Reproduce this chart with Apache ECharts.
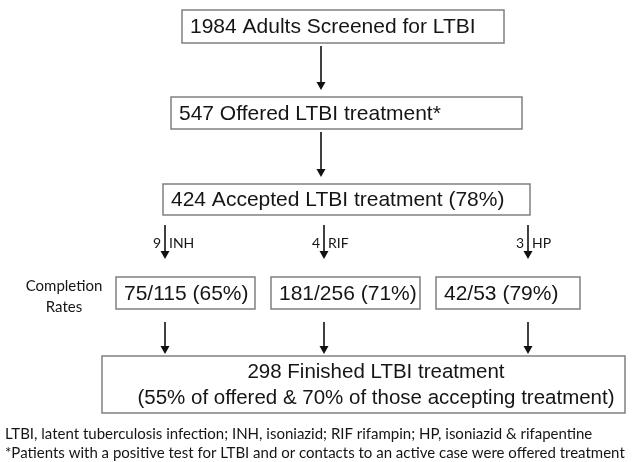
<!DOCTYPE html>
<html>
<head>
<meta charset="utf-8">
<script src="https://cdn.jsdelivr.net/npm/echarts@6/dist/echarts.min.js"></script>
<style>
html, body { margin: 0; padding: 0; background: #fff; }
#main { width: 636px; height: 462px; }
</style>
</head>
<body>
<div id="main"></div>
<script>
// flow steps
var stepLabels = ['1984 Adults Screened for LTBI', '547 Offered LTBI treatment*', '424 Accepted LTBI treatment (78%)'];
var regimens = ['INH', 'RIF', 'HP'];
var regimenCounts = [9, 4, 3];
var completionLabels = ['75/115 (65%)', '181/256 (71%)', '42/53 (79%)'];
var completionTitle = ['Completion', 'Rates'];
var finalLines = ['298 Finished LTBI treatment', '(55% of offered & 70% of those accepting treatment)'];
var footnotes = [
    'LTBI, latent tuberculosis infection; INH, isoniazid; RIF rifampin; HP, isoniazid & rifapentine',
    '*Patients with a positive test for LTBI and or contacts to an active case were offered treatment'
];

// layout (pixels)
var stepBoxes = [[182, 10, 322, 33], [171, 97, 351, 32], [163, 184, 367, 31]];
var branchX = [165, 324, 528];
var rateBoxes = [[116, 277, 139, 32], [271, 277, 149, 32], [436, 277, 144, 32]];
var finalBox = [102, 356, 523, 57];

var boxFont = '21px "Liberation Sans", Arial, sans-serif';
var finalFont = '20.5px "Liberation Sans", Arial, sans-serif';
var tagFont = '14px Lato, "Open Sans", sans-serif';
var noteFont = '15px Lato, "Open Sans", sans-serif';
var stroke = '#808080';
var ink = '#151515';

var els = [];

function box(b) {
    els.push({
        type: 'rect',
        shape: { x: b[0], y: b[1], width: b[2], height: b[3] },
        style: { fill: '#fff', stroke: stroke, lineWidth: 1.5 }
    });
}

function label(txt, x, y, font, align) {
    els.push({
        type: 'text',
        style: { text: txt, x: x, y: y, font: font, fill: ink, align: align || 'left', verticalAlign: 'middle' }
    });
}

function arrow(x, y1, y2) {
    els.push({
        type: 'line',
        shape: { x1: x, y1: y1, x2: x, y2: y2 - 4 },
        style: { stroke: '#111', lineWidth: 1.6 }
    });
    els.push({
        type: 'polygon',
        shape: { points: [[x - 4.5, y2 - 8], [x + 4.5, y2 - 8], [x, y2]] },
        style: { fill: '#111' }
    });
}

stepLabels.forEach(function (t, i) {
    var b = stepBoxes[i];
    box(b);
    label(t, b[0] + 8, b[1] + b[3] / 2 + 1, boxFont);
});
arrow(321, 46, 90);
arrow(321, 132, 177);

regimens.forEach(function (r, i) {
    var x = branchX[i];
    arrow(x, 225, 259);
    label(String(regimenCounts[i]), x - 4, 243, tagFont, 'right');
    label(r, x + 4, 243, tagFont, 'left');
    var b = rateBoxes[i];
    box(b);
    label(completionLabels[i], b[0] + 8, b[1] + b[3] / 2 + 1, boxFont);
    arrow(x, 322, 354);
});
label(completionTitle[0], 64, 286, noteFont, 'center');
label(completionTitle[1], 64, 307, noteFont, 'center');

box(finalBox);
label(finalLines[0], 376, 372, finalFont, 'center');
label(finalLines[1], 376, 398, finalFont, 'center');

label(footnotes[0], 5, 434, noteFont);
label(footnotes[1], 5, 453, noteFont);

var chart = echarts.init(document.getElementById('main'));
chart.setOption({
    backgroundColor: '#fff',
    graphic: { elements: els }
});
</script>
</body>
</html>
